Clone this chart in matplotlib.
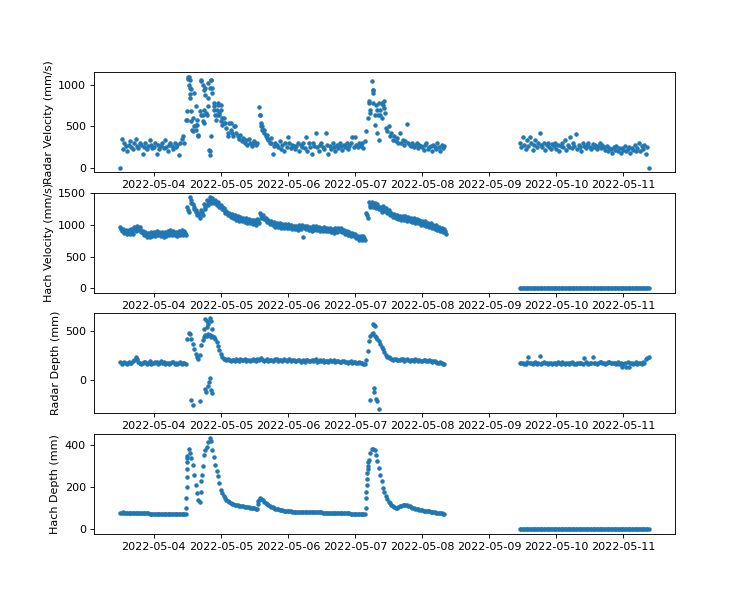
import matplotlib
matplotlib.use("Agg")
import matplotlib.pyplot as plt
import matplotlib.dates as mdates
import pandas as pd

seg1_start = "2022-05-03 12:00"
seg2_start = "2022-05-09 11:00"

# ---------------- Radar velocity (mm/s), 30-min readings ----------------
radar_vel_1 = [
    0, 350, 230, 300, 260, 200, 280, 320, 250, 230, 300, 350,
    260, 240, 300, 280, 170, 250, 300, 230, 260, 330, 280, 240,
    250, 300, 170, 280, 230, 260, 300, 240, 340, 250, 200, 280,
    300, 260, 230, 300, 250, 280, 160, 300, 350, 380, 300, 580,
    680, 1090, 1060, 950, 600, 500, 460, 520, 400, 680, 1050, 640,
    700, 960, 640, 840, 200, 1060, 960, 740, 640, 700, 760, 640,
    560, 520, 600, 540, 480, 420, 540, 460, 420, 380, 500, 420,
    380, 350, 400, 320, 360, 300, 340, 280, 350, 300, 260, 300,
    320, 280, 300, 730, 640, 500, 460, 420, 380, 360, 340, 300,
    300, 170, 260, 300, 280, 250, 320, 230, 280, 200, 300, 250,
    370, 300, 240, 280, 260, 230, 260, 300, 200, 280, 250, 300,
    240, 370, 200, 300, 250, 170, 300, 260, 420, 250, 200, 280,
    300, 250, 230, 420, 280, 170, 260, 230, 300, 250, 200, 280,
    240, 300, 260, 220, 280, 250, 300, 230, 260, 300, 370, 250,
    370, 280, 250, 300, 260, 300, 240, 320, 440, 600, 800, 700,
    1050, 940, 640, 760, 700, 780, 640, 600, 760, 720, 480, 440,
    500, 380, 420, 340, 380, 320, 360, 300, 420, 300, 340, 280,
    320, 530, 300, 280, 260, 300, 250, 280, 300, 240, 280, 260,
    250, 220, 280, 300, 230, 250, 260, 200, 280, 250, 230, 300,
    250, 200, 280, 240, 260,
]
radar_vel_2 = [
    300, 250, 370, 280, 230, 340, 260, 370, 300, 220, 280, 340,
    250, 300, 420, 280, 250, 300, 220, 270, 300, 250, 230, 290,
    260, 300, 230, 280, 200, 260, 300, 250, 330, 220, 280, 250,
    370, 240, 300, 260, 410, 230, 280, 250, 200, 300, 260, 240,
    280, 300, 250, 230, 290, 250, 280, 230, 260, 300, 240, 280,
    250, 220, 260, 200, 240, 230, 180, 250, 220, 260, 200, 240,
    180, 240, 220, 260, 200, 230, 250, 180, 240, 210, 270, 200,
    240, 300, 200, 260, 230, 280, 170, 250, 0,
]
# extra radar velocity readings during the storm events (hours after seg1_start)
rv_extra_hours = [23.9, 24.1, 24.3, 24.6, 24.8, 25.0, 24.8, 25.3, 25.3, 25.7,
                  25.9, 26.5, 27.1, 27.4, 27.2, 27.9, 28.9, 29.5, 30.1, 30.4,
                  28.9, 29.5, 30.7, 31.3, 30.1, 31.5, 32.4, 32.2, 31.9, 32.2,
                  32.4, 33.0, 33.6, 33.6, 34.8, 35.4, 36.0, 34.2, 36.6, 35.0,
                  36.0, 37.2, 38.4, 39.6, 40.8, 50.1, 50.4, 50.6, 50.9, 51.5,
                  52.5, 54.0, 88.9, 89.2, 90.3, 90.4, 90.6, 91.2, 91.8, 92.4,
                  93.7, 92.2, 93.0, 94.9, 94.3]
rv_extra_vals = [580, 1100, 1070, 1000, 960, 890, 840, 680, 560, 460,
                 440, 900, 740, 580, 520, 380, 1060, 1000, 940, 880,
                 640, 560, 660, 740, 540, 1020, 1060, 960, 220, 160,
                 380, 900, 780, 700, 640, 660, 700, 580, 600, 780,
                 760, 540, 380, 540, 500, 640, 540, 500, 460, 460,
                 400, 360, 780, 660, 940, 900, 780, 520, 420, 340,
                 780, 640, 700, 660, 800]

# ---------------- Hach velocity (mm/s), hourly: band top, middle, bottom ----------------
hach_vel_hi_1 = [
    970, 940, 925, 920, 935, 970, 985, 965, 905, 885, 880, 895,
    895, 905, 895, 885, 895, 905, 915, 905, 890, 905, 915, 910,
    1280, 1440, 1325, 1240, 1190, 1240, 1330, 1390, 1440, 1425, 1400, 1360,
    1315, 1265, 1225, 1195, 1175, 1155, 1135, 1125, 1115, 1105, 1095, 1085,
    1075, 1095, 1185, 1165, 1115, 1085, 1065, 1045, 1035, 1025, 1015, 1015,
    1010, 1000, 990, 980, 995, 1000, 990, 980, 970, 980, 980, 970,
    960, 970, 960, 950, 940, 950, 960, 950, 920, 900, 890, 880,
    860, 830, 820, 830, 1190, 1360, 1370, 1350, 1330, 1290, 1300, 1270,
    1235, 1195, 1175, 1165, 1145, 1145, 1135, 1125, 1115, 1105, 1095, 1075,
    1065, 1055, 1035, 1025, 1005, 995, 975, 955, 935,
]
hach_vel_mid_1 = [
    935, 905, 890, 885, 900, 935, 950, 930, 870, 850, 845, 860,
    860, 870, 860, 850, 860, 870, 880, 870, 855, 870, 880, 875,
    1240, 1390, 1285, 1200, 1150, 1200, 1290, 1350, 1395, 1385, 1360, 1320,
    1280, 1230, 1190, 1160, 1140, 1120, 1100, 1090, 1080, 1070, 1060, 1050,
    1040, 1060, 1150, 1130, 1080, 1050, 1030, 1010, 1000, 990, 980, 980,
    980, 970, 960, 950, 965, 970, 960, 950, 940, 950, 950, 940,
    930, 940, 930, 920, 910, 920, 930, 920, 890, 870, 860, 850,
    830, 800, 790, 800, 1150, 1320, 1330, 1310, 1290, 1250, 1260, 1230,
    1200, 1160, 1140, 1130, 1110, 1110, 1100, 1090, 1080, 1070, 1060, 1040,
    1030, 1020, 1000, 990, 970, 960, 940, 920, 900,
]
hach_vel_lo_1 = [
    900, 870, 855, 850, 865, 900, 915, 895, 835, 815, 810, 825,
    825, 835, 825, 815, 825, 835, 845, 835, 820, 835, 845, 840,
    1200, 1340, 1245, 1160, 1110, 1160, 1250, 1310, 1350, 1345, 1320, 1280,
    1245, 1195, 1155, 1125, 1105, 1085, 1065, 1055, 1045, 1035, 1025, 1015,
    1005, 1025, 1115, 1095, 1045, 1015, 995, 975, 965, 955, 945, 945,
    950, 940, 930, 920, 935, 810, 930, 920, 910, 920, 920, 910,
    900, 910, 900, 890, 880, 890, 900, 890, 860, 840, 830, 820,
    800, 770, 760, 770, 1110, 1280, 1290, 1270, 1250, 1210, 1220, 1190,
    1165, 1125, 1105, 1095, 1075, 1075, 1065, 1055, 1045, 1035, 1025, 1005,
    995, 985, 965, 955, 935, 925, 905, 885, 865,
]
# second period, 30-min readings (sensor reads zero)
hach_vel_2 = [
    0, 0, 0, 0, 0, 0, 0, 0, 0, 0,
    0, 0, 0, 0, 0, 0, 0, 0, 0, 0,
    0, 0, 0, 0, 0, 0, 0, 0, 0, 0,
    0, 0, 0, 0, 0, 0, 0, 0, 0, 0,
    0, 0, 0, 0, 0, 0, 0, 0, 0, 0,
    0, 0, 0, 0, 0, 0, 0, 0, 0, 0,
    0, 0, 0, 0, 0, 0, 0, 0, 0, 0,
    0, 0, 0, 0, 0, 0, 0, 0, 0, 0,
    0, 0, 0, 0, 0, 0, 0, 0, 0, 0,
    0, 0, 0,
]

# ---------------- Radar depth (mm), readings on the hour and half hour ----------------
radar_depth_1 = [
    180, 170, 175, 185, 170, 200, 210, 175, 170, 180, 175, 165,
    170, 180, 175, 170, 165, 175, 170, 180, 175, 170, 165, 175,
    420, 470, 370, 270, 210, 360, 440, 450, 460, 450, 420, 350,
    270, 215, 205, 200, 205, 195, 200, 210, 200, 195, 200, 205,
    200, 210, 215, 205, 200, 195, 205, 200, 210, 200, 195, 200,
    200, 195, 205, 190, 200, 195, 185, 200, 195, 190, 210, 195,
    190, 185, 195, 200, 190, 185, 195, 180, 190, 185, 180, 175,
    180, 175, 170, 165, 200, 400, 470, 450, 420, 370, 320, 260,
    230, 215, 210, 205, 200, 210, 200, 205, 200, 195, 205, 200,
    195, 200, 190, 195, 190, 185, 175, 170, 165,
]
radar_depth_1b = [
    165, 185, 160, 175, 190, 230, 185, 160, 185, 165, 190, 175,
    185, 160, 190, 180, 175, 160, 185, 165, 160, 185, 175, 160,
    480, 420, 320, 240, 260, 410, 460, 470, 440, 440, 390, 310,
    235, 210, 215, 190, 200, 210, 190, 200, 215, 205, 190, 210,
    190, 205, 225, 195, 210, 205, 190, 215, 195, 205, 210, 190,
    210, 205, 190, 200, 185, 205, 200, 190, 205, 200, 185, 205,
    200, 195, 180, 190, 200, 195, 180, 190, 180, 175, 190, 185,
    170, 185, 175, 160, 300, 450, 480, 440, 400, 340, 290, 240,
    220, 205, 215, 200, 210, 195, 210, 195, 205, 210, 195, 190,
    205, 190, 200, 185, 195, 175, 180, 165,
]
radar_depth_2 = [
    170, 175, 165, 240, 170, 175, 165, 245, 170, 175,
    165, 170, 175, 165, 170, 180, 165, 170, 175, 170,
    165, 175, 170, 228, 175, 170, 238, 175, 170, 180,
    170, 175, 180, 170, 175, 180, 170, 165, 135, 130,
    175, 170, 165, 175, 180, 215, 235,
]
radar_depth_2b = [
    175, 165, 180, 170, 160, 180, 175, 165, 180, 170,
    175, 160, 170, 180, 165, 175, 170, 160, 180, 165,
    175, 170, 160, 180, 165, 175, 170, 160, 180, 170,
    165, 180, 170, 175, 165, 160, 130, 175, 180, 170,
    165, 180, 170, 160, 175, 220,
]
rd_extra_hours = [30.5, 31.0, 31.5, 32.0, 32.5, 30.0, 31.2, 33.0, 90.4, 90.7, 91.0,
                  25.3, 25.9, 28.6, 30.3, 30.7, 31.3, 31.9, 32.1, 32.4, 33.0,
                  89.5, 90.7, 90.9, 91.5, 91.8, 92.7]
rd_extra_vals = [630, 600, 570, 640, 610, 520, 540, 520, 575, 560, 550,
                 -207, -255, -214, -95, -129, -61, -27, 24, -105, -139,
                 -207, -85, -129, -197, -214, -299]

# ---------------- Hach depth (mm), on the hour and half hour ----------------
hach_depth_1 = [
    80, 81, 80, 80, 79, 78, 77, 77, 76, 76, 76, 75,
    75, 75, 75, 74, 74, 74, 74, 74, 73, 73, 73, 74,
    350, 365, 305, 213, 138, 229, 356, 395, 435, 379, 308, 253,
    190, 158, 138, 130, 123, 118, 115, 112, 110, 108, 105, 102,
    100, 98, 150, 140, 125, 115, 108, 102, 97, 94, 91, 89,
    87, 86, 85, 85, 84, 84, 83, 83, 82, 82, 82, 81,
    81, 80, 80, 79, 79, 78, 78, 77, 77, 76, 76, 75,
    75, 74, 74, 73, 150, 330, 385, 380, 324, 261, 198, 158,
    131, 118, 106, 103, 112, 116, 116, 114, 108, 100, 97, 94,
    91, 89, 87, 85, 83, 80, 78, 76, 74,
]
hach_depth_1b = [
    80, 80, 80, 79, 78, 77, 77, 76, 76, 76, 75, 75,
    75, 75, 74, 74, 74, 74, 74, 73, 73, 73, 73, 74,
    385, 340, 261, 175, 130, 300, 380, 415, 420, 345, 280, 220,
    172, 148, 134, 126, 120, 116, 113, 111, 109, 106, 103, 101,
    99, 140, 145, 132, 120, 111, 105, 99, 95, 92, 90, 88,
    86, 85, 85, 84, 84, 83, 83, 82, 82, 82, 81, 81,
    80, 80, 79, 79, 78, 78, 77, 77, 76, 76, 75, 75,
    74, 74, 73, 73, 290, 365, 385, 355, 292, 230, 178, 144,
    124, 112, 104, 107, 114, 116, 115, 111, 104, 98, 95, 92,
    90, 88, 86, 84, 81, 79, 77, 75,
]
# readings along the steep rises (hours after seg1_start)
hd_extra_hours = [23.6, 23.7, 23.75, 23.8, 23.85, 23.9, 23.95, 49.2, 49.3,
                  87.9, 88.1, 88.2, 88.3, 88.4, 88.6, 88.8, 28.8, 29.2]
hd_extra_vals = [100, 150, 200, 250, 290, 320, 340, 120, 135,
                 100, 180, 210, 240, 270, 300, 320, 180, 260]
hach_depth_2 = [
    0, 0, 0, 0, 0, 0, 0, 0, 0, 0,
    0, 0, 0, 0, 0, 0, 0, 0, 0, 0,
    0, 0, 0, 0, 0, 0, 0, 0, 0, 0,
    0, 0, 0, 0, 0, 0, 0, 0, 0, 0,
    0, 0, 0, 0, 0, 0, 0, 0, 0, 0,
    0, 0, 0, 0, 0, 0, 0, 0, 0, 0,
    0, 0, 0, 0, 0, 0, 0, 0, 0, 0,
    0, 0, 0, 0, 0, 0, 0, 0, 0, 0,
    0, 0, 0, 0, 0, 0, 0, 0, 0, 0,
    0, 0, 0,
]

ylabels = ["Radar Velocity (mm/s)", "Hach Velocity (mm/s)",
           "Radar Depth (mm)", "Hach Depth (mm)"]
yticks = [[0, 500, 1000], [0, 500, 1000, 1500], [0, 500], [0, 200, 400]]

# ---------------- time axes ----------------
t0 = pd.Timestamp(seg1_start)
s2 = pd.Timestamp(seg2_start)
half = pd.Timedelta(minutes=30)
quarter = pd.Timedelta(minutes=15)
t_rv1 = pd.date_range(t0, periods=len(radar_vel_1), freq="30min")
t_rv2 = pd.date_range(s2, periods=len(radar_vel_2), freq="30min")
t1 = pd.date_range(t0, periods=len(hach_depth_1), freq="h")
t1q = t1 + quarter
t1b = t1 + half
t_hd1b = pd.date_range(t0 + half, periods=len(hach_depth_1b), freq="h")
t2 = pd.date_range(s2, periods=len(radar_depth_2), freq="h")
t2z = pd.date_range(s2, periods=len(hach_depth_2), freq="30min")
t_rd1b = pd.date_range(t0 + half, periods=len(radar_depth_1b), freq="h")
t_rd2b = pd.date_range(s2 + half, periods=len(radar_depth_2b), freq="h")
t_rv_extra = t0 + pd.to_timedelta(rv_extra_hours, unit="h")
t_rd_extra = t0 + pd.to_timedelta(rd_extra_hours, unit="h")
t_hd_extra = t0 + pd.to_timedelta(hd_extra_hours, unit="h")

fig, axes = plt.subplots(4, 1, figsize=(9.375, 7.5), dpi=80)
c = "#1f77b4"
kw = dict(linestyle="none", marker=".", color=c)

ax = axes[0]
ax.plot(t_rv1, radar_vel_1, **kw)
ax.plot(t_rv_extra, rv_extra_vals, **kw)
ax.plot(t_rv2, radar_vel_2, **kw)

ax = axes[1]
ax.plot(t1, hach_vel_hi_1, **kw)
ax.plot(t1q, hach_vel_mid_1, **kw)
ax.plot(t1b, hach_vel_lo_1, **kw)
ax.plot(t2z, hach_vel_2, **kw)

ax = axes[2]
ax.plot(t1, radar_depth_1, **kw)
ax.plot(t_rd1b, radar_depth_1b, **kw)
ax.plot(t_rd_extra, rd_extra_vals, **kw)
ax.plot(t2, radar_depth_2, **kw)
ax.plot(t_rd2b, radar_depth_2b, **kw)

ax = axes[3]
ax.plot(t1, hach_depth_1, **kw)
ax.plot(t_hd1b, hach_depth_1b, **kw)
ax.plot(t_hd_extra, hd_extra_vals, **kw)
ax.plot(t2z, hach_depth_2, **kw)

for ax, lab, yt in zip(axes, ylabels, yticks):
    ax.set_ylabel(lab)
    ax.set_yticks(yt)
    ax.xaxis.set_major_locator(mdates.DayLocator())
    ax.xaxis.set_major_formatter(mdates.DateFormatter("%Y-%m-%d"))

fig.savefig("out.png", dpi=80)
